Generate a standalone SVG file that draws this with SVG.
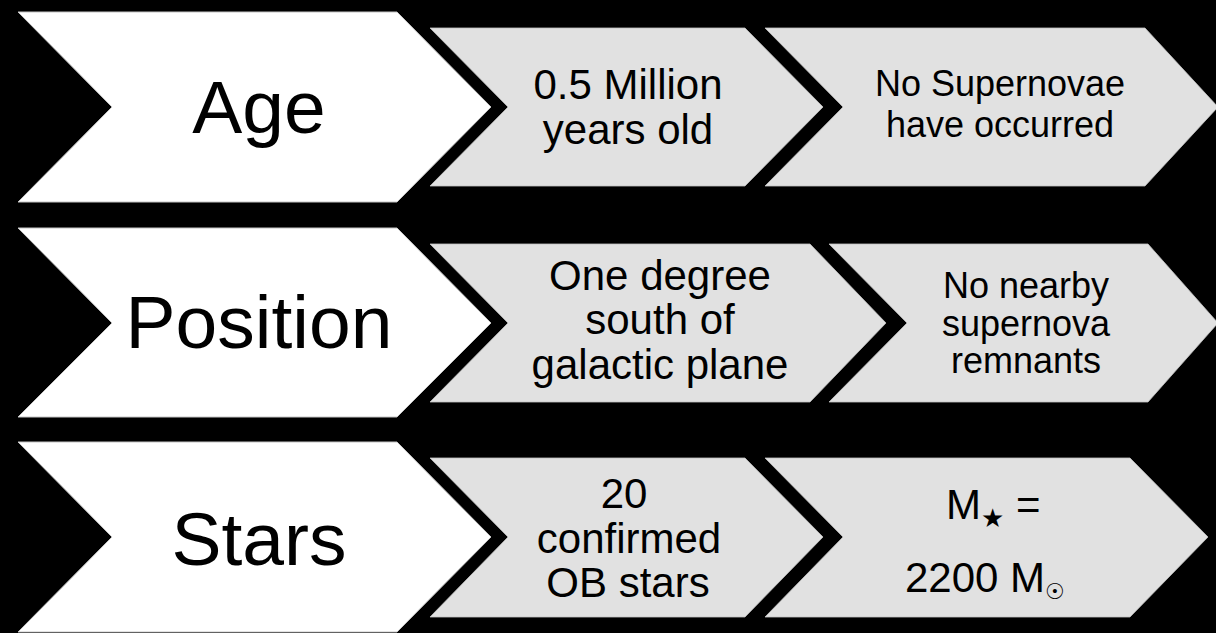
<svg xmlns="http://www.w3.org/2000/svg" width="1216" height="633" viewBox="0 0 1216 633">
  <style>
    .head { fill: #ffffff; stroke: #c4c4c4; stroke-width: 1; }
    .step { fill: #e1e1e1; stroke: #c2c2c2; stroke-width: 0.8; }
    text { font-family: "Liberation Sans", Arial, sans-serif; fill: #000; text-anchor: middle; }
    .big { font-size: 75px; }
    .mid { font-size: 42px; }
    .small { font-size: 36px; }
    .sym { font-family: "DejaVu Sans", sans-serif; }
  </style>
  <rect x="0" y="0" width="1216" height="633" fill="#000"/>

  <!-- Row 1: Age -->
  <g id="age">
    <polygon class="head" points="18,12 397,12 491,107 397,202 18,202 112,107"/>
    <text class="big" x="259" y="133">Age</text>
  </g>
  <g id="age-years">
    <polygon class="step" points="430,28 745,28 823,107 745,186 430,186 508,107"/>
    <text class="mid" x="628" y="99">0.5 Million</text>
    <text class="mid" x="628" y="144">years old</text>
  </g>
  <g id="age-supernovae">
    <polygon class="step" points="765,28 1145,28 1218,107 1145,186 765,186 843,107"/>
    <text class="small" x="1000" y="96">No Supernovae</text>
    <text class="small" x="1000" y="137">have occurred</text>
  </g>

  <!-- Row 2: Position -->
  <g id="position">
    <polygon class="head" points="18,228 397,228 491,323 397,417 18,417 112,323"/>
    <text class="big" x="259" y="348">Position</text>
  </g>
  <g id="position-plane">
    <polygon class="step" points="430,244 810,244 886,323 810,402 430,402 508,323"/>
    <text class="mid" x="660" y="290">One degree</text>
    <text class="mid" x="660" y="334">south of</text>
    <text class="mid" x="660" y="379">galactic plane</text>
  </g>
  <g id="position-remnants">
    <polygon class="step" points="829,244 1148,244 1218,323 1148,402 829,402 907,323"/>
    <text class="small" x="1026" y="298">No nearby</text>
    <text class="small" x="1026" y="336">supernova</text>
    <text class="small" x="1026" y="373">remnants</text>
  </g>

  <!-- Row 3: Stars -->
  <g id="stars">
    <polygon class="head" points="18,442 397,442 491,537 397,632 18,632 112,537"/>
    <text class="big" x="259" y="565">Stars</text>
  </g>
  <g id="stars-ob">
    <polygon class="step" points="430,458 745,458 823,537 745,617 430,617 508,537"/>
    <text class="mid" x="624" y="508">20</text>
    <text class="mid" x="629" y="553">confirmed</text>
    <text class="mid" x="628" y="597">OB stars</text>
  </g>
  <g id="stars-mass">
    <polygon class="step" points="765,458 1130,458 1208,537 1130,617 765,617 843,537"/>
    <text class="mid" x="946" y="519" style="text-anchor:start">M<tspan class="sym" font-size="26" dy="8">★</tspan><tspan dy="-8"> =</tspan></text>
    <text class="mid" x="905" y="592" style="text-anchor:start">2200 M<tspan class="sym" font-size="22" dy="7">☉</tspan></text>
  </g>
</svg>
